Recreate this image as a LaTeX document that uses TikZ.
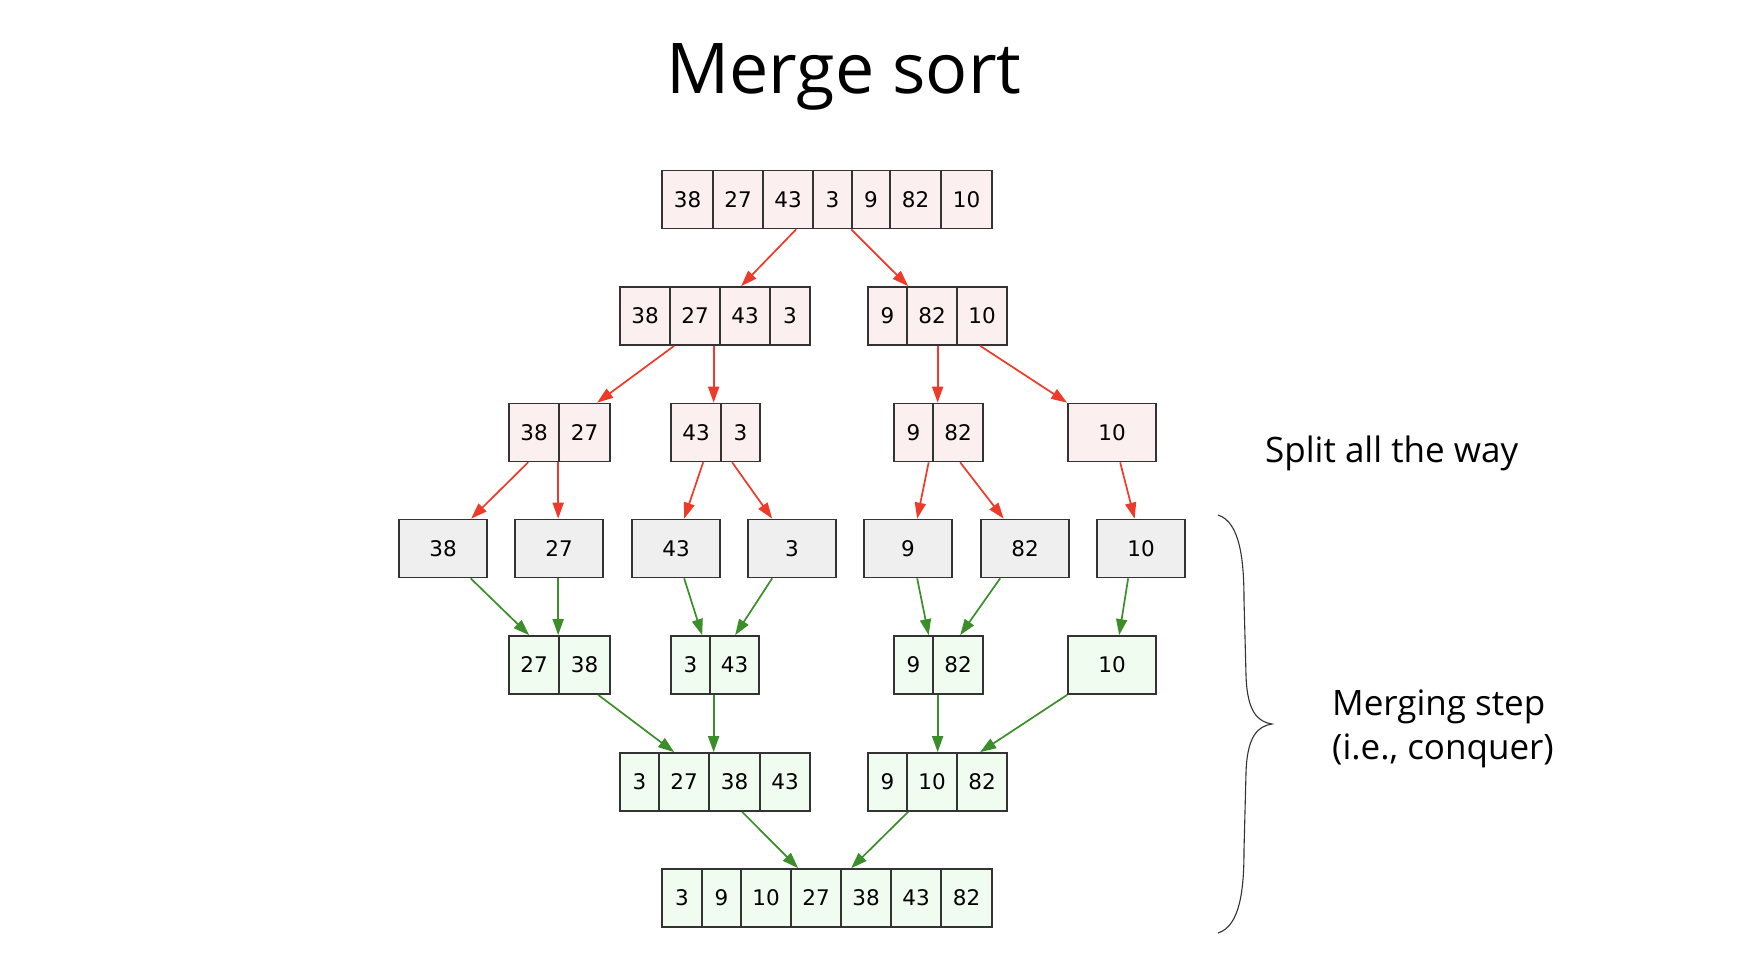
\documentclass[tikz,border=0pt]{standalone}
\usepackage{fontspec}
\setmainfont{Open Sans}
\newfontfamily\cellfont{DejaVu Sans}
\usetikzlibrary{arrows.meta}
\definecolor{pinkfill}{HTML}{FCEFEF}
\definecolor{greyfill}{HTML}{EFEFEF}
\definecolor{greenfill}{HTML}{F0FCEF}
\definecolor{borderc}{HTML}{333333}
\definecolor{redarr}{HTML}{EE3A28}
\definecolor{greenarr}{HTML}{3B8E2A}
\tikzset{
  cellbase/.style={draw=borderc, line width=1.7pt, inner sep=0pt, minimum height=58pt,
    font=\cellfont\fontsize{21.5}{25}\selectfont},
  pk/.style={cellbase, fill=pinkfill},
  gy/.style={cellbase, fill=greyfill},
  gn/.style={cellbase, fill=greenfill},
  splitarrow/.style={draw=redarr, line width=1.7pt, -{Triangle[length=16pt,width=11pt]}, fill=redarr},
  mergearrow/.style={draw=greenarr, line width=1.7pt, -{Triangle[length=16pt,width=11pt]}, fill=greenarr},
  label/.style={font=\fontsize{35}{42}\selectfont, anchor=base west, inner sep=0pt}
}
\begin{document}
\begin{tikzpicture}[x=1pt,y=-1pt]
\useasboundingbox[fill=white] (0,0) rectangle (1756,970);
\node[font=\fontsize{70}{84}\selectfont, anchor=base, inner sep=0pt] (title) at (844,93) {Merge sort};
% row 1
\node[pk, minimum width=51pt] (a1) at (687.5,199.5) {38};
\node[pk, minimum width=50pt] (a2) at (738,199.5) {27};
\node[pk, minimum width=50pt] (a3) at (788,199.5) {43};
\node[pk, minimum width=39pt] (a4) at (832.5,199.5) {3};
\node[pk, minimum width=38pt] (a5) at (871,199.5) {9};
\node[pk, minimum width=51pt] (a6) at (915.5,199.5) {82};
\node[pk, minimum width=51pt] (a7) at (966.5,199.5) {10};
% row 2
\node[pk, minimum width=50pt] (b1) at (645,316) {38};
\node[pk, minimum width=50pt] (b2) at (695,316) {27};
\node[pk, minimum width=50pt] (b3) at (745,316) {43};
\node[pk, minimum width=40pt] (b4) at (790,316) {3};
\node[pk, minimum width=39pt] (b5) at (887.5,316) {9};
\node[pk, minimum width=50pt] (b6) at (932,316) {82};
\node[pk, minimum width=50pt] (b7) at (982,316) {10};
% row 3
\node[pk, minimum width=50pt] (c1) at (534,432.5) {38};
\node[pk, minimum width=51pt] (c2) at (584.5,432.5) {27};
\node[pk, minimum width=50pt] (c3) at (696,432.5) {43};
\node[pk, minimum width=39pt] (c4) at (740.5,432.5) {3};
\node[pk, minimum width=39pt] (c5) at (913.5,432.5) {9};
\node[pk, minimum width=50pt] (c6) at (958,432.5) {82};
\node[pk, minimum width=88pt] (c7) at (1112,432.5) {10};
% row 4
\node[gy, minimum width=88pt] (d1) at (443,548.5) {38};
\node[gy, minimum width=88pt] (d2) at (559,548.5) {27};
\node[gy, minimum width=88pt] (d3) at (676,548.5) {43};
\node[gy, minimum width=88pt] (d4) at (792,548.5) {3};
\node[gy, minimum width=88pt] (d5) at (908,548.5) {9};
\node[gy, minimum width=88pt] (d6) at (1025,548.5) {82};
\node[gy, minimum width=88pt] (d7) at (1141,548.5) {10};
% row 5
\node[gn, minimum width=50pt] (e1) at (534,665) {27};
\node[gn, minimum width=51pt] (e2) at (584.5,665) {38};
\node[gn, minimum width=39pt] (e3) at (690.5,665) {3};
\node[gn, minimum width=49pt] (e4) at (734.5,665) {43};
\node[gn, minimum width=39pt] (e5) at (913.5,665) {9};
\node[gn, minimum width=50pt] (e6) at (958,665) {82};
\node[gn, minimum width=88pt] (e7) at (1112,665) {10};
% row 6
\node[gn, minimum width=39pt] (f1) at (639.5,782) {3};
\node[gn, minimum width=50pt] (f2) at (684,782) {27};
\node[gn, minimum width=51pt] (f3) at (734.5,782) {38};
\node[gn, minimum width=50pt] (f4) at (785,782) {43};
\node[gn, minimum width=39pt] (f5) at (887.5,782) {9};
\node[gn, minimum width=50pt] (f6) at (932,782) {10};
\node[gn, minimum width=50pt] (f7) at (982,782) {82};
% row 7
\node[gn, minimum width=40pt] (g1) at (682,898) {3};
\node[gn, minimum width=39pt] (g2) at (721.5,898) {9};
\node[gn, minimum width=50pt] (g3) at (766,898) {10};
\node[gn, minimum width=50pt] (g4) at (816,898) {27};
\node[gn, minimum width=50pt] (g5) at (866,898) {38};
\node[gn, minimum width=50pt] (g6) at (916,898) {43};
\node[gn, minimum width=51pt] (g7) at (966.5,898) {82};
% split arrows
\draw[splitarrow] ([xshift=34pt]a3.south west) -- ([xshift=22pt]b3.north west);
\draw[splitarrow] ([xshift=0pt]a5.south west) -- ([xshift=2pt]b6.north west);
\draw[splitarrow] ([xshift=5pt]b2.south west) -- ([xshift=39pt]c2.north west);
\draw[splitarrow] ([xshift=-5.5pt]b3.south west) -- ([xshift=43.5pt]c3.north west);
\draw[splitarrow] ([xshift=31.5pt]b6.south west) -- ([xshift=5.5pt]c6.north west);
\draw[splitarrow] ([xshift=24pt]b7.south west) -- ([xshift=0pt]c7.north west);
\draw[splitarrow] ([xshift=20pt]c1.south west) -- ([xshift=73pt]d1.north west);
\draw[splitarrow] ([xshift=0pt]c2.south west) -- ([xshift=44pt]d2.north west);
\draw[splitarrow] ([xshift=33pt]c3.south west) -- ([xshift=53pt]d3.north west);
\draw[splitarrow] ([xshift=12pt]c4.south west) -- ([xshift=25pt]d4.north west);
\draw[splitarrow] ([xshift=35.5pt]c5.south west) -- ([xshift=54pt]d5.north west);
\draw[splitarrow] ([xshift=28pt]c6.south west) -- ([xshift=23.5pt]d6.north west);
\draw[splitarrow] ([xshift=53pt]c7.south west) -- ([xshift=38.5pt]d7.north west);
% merge arrows
\draw[mergearrow] ([xshift=72.5pt]d1.south west) -- ([xshift=21pt]e1.north west);
\draw[mergearrow] ([xshift=44pt]d2.south west) -- ([xshift=0pt]e2.north west);
\draw[mergearrow] ([xshift=53pt]d3.south west) -- ([xshift=32pt]e3.north west);
\draw[mergearrow] ([xshift=25pt]d4.south west) -- ([xshift=26pt]e4.north west);
\draw[mergearrow] ([xshift=54pt]d5.south west) -- ([xshift=35.5pt]e5.north west);
\draw[mergearrow] ([xshift=20pt]d6.south west) -- ([xshift=28pt]e6.north west);
\draw[mergearrow] ([xshift=32pt]d7.south west) -- ([xshift=52pt]e7.north west);
\draw[mergearrow] ([xshift=40pt]e2.south west) -- ([xshift=16pt]f2.north west);
\draw[mergearrow] ([xshift=4.5pt]e4.south west) -- ([xshift=5.5pt]f3.north west);
\draw[mergearrow] ([xshift=5.5pt]e6.south west) -- ([xshift=31.5pt]f6.north west);
\draw[mergearrow] ([xshift=0pt]e7.south west) -- ([xshift=24pt]f7.north west);
\draw[mergearrow] ([xshift=34pt]f3.south west) -- ([xshift=8pt]g4.north west);
\draw[mergearrow] ([xshift=2pt]f6.south west) -- ([xshift=11pt]g5.north west);
% labels
\node[label] (split) at (1265,462) {Split all the way};
\node[label] (merge1) at (1332,715) {Merging step};
\node[label] (merge2) at (1332,759) {(i.e., conquer)};
% brace
\coordinate (bt) at (1218,515);
\coordinate (btip) at (1272,724);
\coordinate (bb) at (1218,933);
\draw[borderc, line width=1.1pt]
  (bt) .. controls (1240,522) and (1244,560) .. (1244,600)
  -- (1246,675) .. controls (1247,712) and (1258,722) .. (btip)
  .. controls (1258,726) and (1247,736) .. (1246,773)
  -- (1244,850) .. controls (1244,890) and (1240,926) .. (bb);
\end{tikzpicture}
\end{document}
